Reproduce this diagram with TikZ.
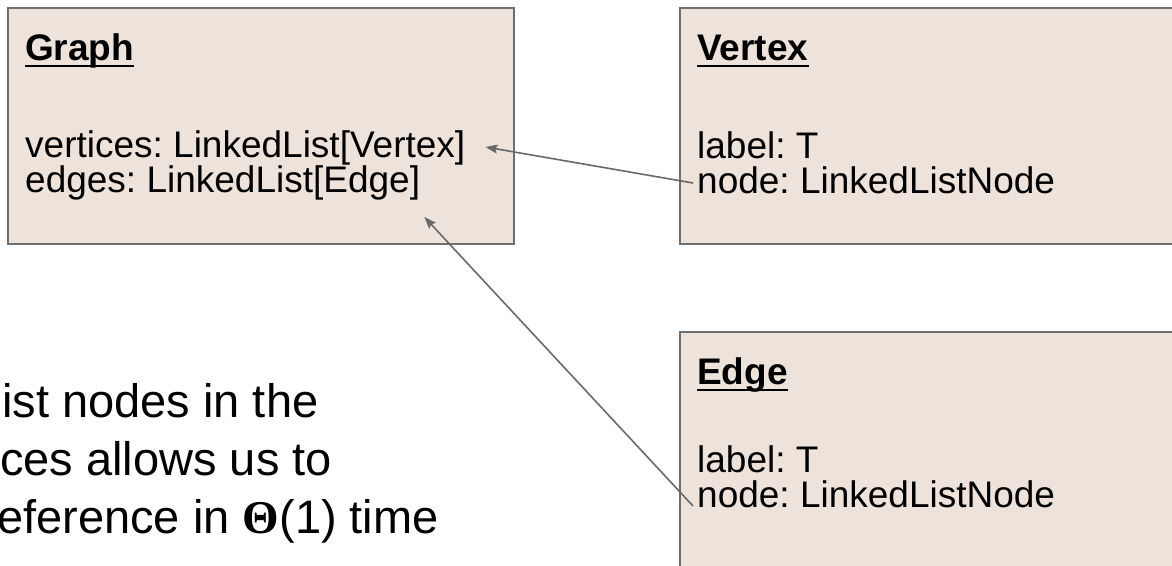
\documentclass[tikz,border=0pt]{standalone}
\usepackage{fontspec}
\setmainfont{Liberation Sans}
\newfontfamily\thetafont{Liberation Serif}
\usetikzlibrary{arrows.meta}
\definecolor{boxfill}{RGB}{237,227,219}
\definecolor{boxline}{RGB}{110,110,110}
\definecolor{arrowc}{RGB}{105,105,105}
\frenchspacing
\begin{document}
\begin{tikzpicture}[x=1pt,y=-1pt,
  umlbox/.style={draw=boxline,fill=boxfill,line width=2pt,rectangle,inner sep=0pt,anchor=north west},
  headtext/.style={anchor=base west,inner sep=0pt,font=\fontsize{37}{37}\selectfont\bfseries},
  bodytext/.style={anchor=base west,inner sep=0pt,font=\fontsize{37}{37}\selectfont},
  bigtext/.style={anchor=base west,inner sep=0pt,font=\fontsize{47}{47}\selectfont},
  uline/.style={line width=2.6pt},
  link/.style={draw=arrowc,line width=1.6pt,-{Stealth[length=12pt,width=9pt,inset=2pt]}}]
\useasboundingbox (0,0) rectangle (1172,565);
\clip (0,0) rectangle (1172,565);
% boxes
\node[umlbox,minimum width=506pt,minimum height=236pt] (graphbox) at (7,7) {};
\node[umlbox,minimum width=520pt,minimum height=236pt] (vertexbox) at (679,7) {};
\node[umlbox,minimum width=520pt,minimum height=300pt] (edgebox) at (679,331) {};
% Graph
\node[headtext] (gh) at (25,60) {Graph};
\draw[uline] ([shift={(0,6)}]gh.base west) -- ([shift={(0,6)}]gh.base east);
\node[bodytext] (gv) at (25,157) {vertices: LinkedList[Vertex]};
\node[bodytext] (ge) at (25,192) {edges: LinkedList[Edge]};
% Vertex
\node[headtext] (vh) at (697,60) {Vertex};
\draw[uline] ([shift={(0,6)}]vh.base west) -- ([shift={(0,6)}]vh.base east);
\node[bodytext] (vl) at (697,158) {label: T};
\node[bodytext] (vn) at (697,193) {node: LinkedListNode};
% Edge
\node[headtext] (eh) at (697,384) {Edge};
\draw[uline] ([shift={(0,6)}]eh.base west) -- ([shift={(0,6)}]eh.base east);
\node[bodytext] (el) at (697,472) {label: T};
\node[bodytext] (en) at (697,507) {node: LinkedListNode};
% left text
\node[bigtext] (t1) at (2,417) {ist nodes in the};
\node[bigtext] (t2) at (0,475) {ces allows us to};
\node[bigtext] (t3) at (-3,533) {eference in {\thetafont\bfseries Θ}(1) time};
% connectors
\coordinate (a1) at ([shift={(20,-10)}]gv.base east);
\coordinate (a2) at ([shift={(4,25)}]ge.base east);
\draw[link] ([shift={(-4,-10)}]vn.base west) -- (a1);
\draw[link] ([shift={(-4,-1)}]en.base west) -- (a2);
\end{tikzpicture}
\end{document}
